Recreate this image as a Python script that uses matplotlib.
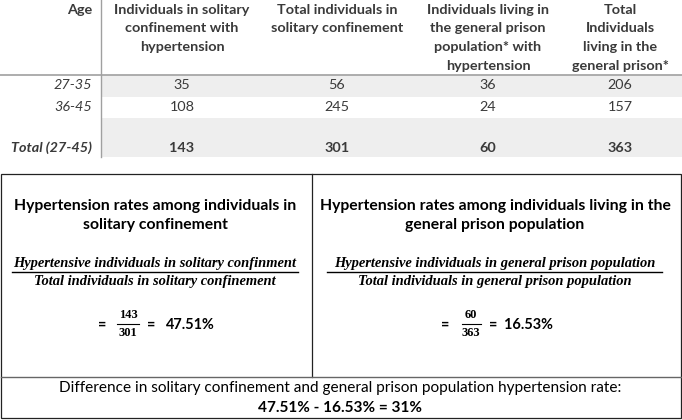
import matplotlib
matplotlib.use("Agg")
import matplotlib.pyplot as plt
from matplotlib.patches import Rectangle

# ---------------- data ----------------
age_header = "Age"
col_headers = [
    ["Individuals in solitary", "confinement with", "hypertension"],
    ["Total individuals in", "solitary confinement"],
    ["Individuals living in", "the general prison", "population* with", "hypertension"],
    ["Total", "Individuals", "living in the", "general prison*"],
]
age_groups = ["27-35", "36-45"]
solitary_htn = [35, 108]
solitary_total = [56, 245]
general_htn = [36, 24]
general_total = [206, 157]
total_label = "Total (27-45)"

tot_sol_htn = sum(solitary_htn)
tot_sol = sum(solitary_total)
tot_gen_htn = sum(general_htn)
tot_gen = sum(general_total)
rate_sol = 100 * tot_sol_htn / tot_sol
rate_gen = 100 * tot_gen_htn / tot_gen
diff = rate_sol - rate_gen

left_title = ["Hypertension rates among individuals in", "solitary confinement"]
right_title = ["Hypertension rates among individuals living in the", "general prison population"]
left_num = "Hypertensive individuals in solitary confinment"
left_den = "Total individuals in solitary confinement"
right_num = "Hypertensive individuals in general prison population"
right_den = "Total individuals in general prison population"
diff_text = "Difference in solitary confinement and general prison population hypertension rate:"

# ---------------- figure ----------------
W, H = 682, 420
fig = plt.figure(figsize=(W / 100, H / 100), dpi=100)
ax = fig.add_axes([0, 0, 1, 1])
ax.set_xlim(0, W)
ax.set_ylim(H, 0)
ax.axis("off")
fig.canvas.draw()
R = fig.canvas.get_renderer()

SANS = "Lato"
SERIF = "Liberation Serif"
TCOL = "#3a3a3a"


def fit(text_obj, target_w):
    w = text_obj.get_window_extent(R).width
    fs = text_obj.get_fontsize() * target_w / w
    text_obj.set_fontsize(fs)
    return fs


def txt(x, y, s, size=10, ha="center", weight="normal", style="normal",
        family=SANS, color="black"):
    return ax.text(x, y, s, ha=ha, va="center", fontsize=size, fontweight=weight,
                   fontstyle=style, family=family, color=color)


# ---------- top table ----------
band = "#eeeeee"
ax.add_patch(Rectangle((101, 75), W - 101, 22, color=band, lw=0, zorder=0))
ax.add_patch(Rectangle((101, 118), W - 101, 39, color=band, lw=0, zorder=0))
ax.plot([0, W], [75, 75], color="#a0a0a0", lw=1.2, zorder=1)
ax.plot([101, 101], [0, 157], color="#a0a0a0", lw=1.0, zorder=1)

col_x = [182, 337, 488, 620]
line_y = [10, 28.5, 47, 65.5]

t = txt(182, line_y[0], col_headers[0][0], weight="bold", color=TCOL)
hfs = fit(t, 136)
for ci, lines in enumerate(col_headers):
    for li, s in enumerate(lines):
        if ci == 0 and li == 0:
            continue
        txt(col_x[ci], line_y[li], s, size=hfs, weight="bold", color=TCOL)
txt(92, line_y[0], age_header, size=hfs, ha="right", weight="bold", color=TCOL)

row_y = [85, 107]
for ri, ag in enumerate(age_groups):
    txt(92, row_y[ri], ag, size=hfs, ha="right", style="italic", color=TCOL)
    vals = [solitary_htn[ri], solitary_total[ri], general_htn[ri], general_total[ri]]
    for ci, v in enumerate(vals):
        txt(col_x[ci], row_y[ri], str(v), size=hfs, color=TCOL)

txt(92, 148, total_label, size=hfs, ha="right", style="italic", weight="bold", color=TCOL)
for ci, v in enumerate([tot_sol_htn, tot_sol, tot_gen_htn, tot_gen]):
    txt(col_x[ci], 148, str(v), size=hfs, weight="bold", color=TCOL)

# ---------- bottom boxes ----------
bc = "#222222"
ax.add_patch(Rectangle((1, 174), W - 2, 244, fill=False, ec=bc, lw=0.9))
ax.plot([312, 312], [174, 377], color=bc, lw=0.9)
ax.plot([1, W - 1], [377, 377], color="#666666", lw=1.0)

lc, rc = 155, 495
t = txt(lc, 206, left_title[0], weight="bold")
tfs = fit(t, 283)
txt(lc, 225, left_title[1], size=tfs, weight="bold")
txt(rc, 206, right_title[0], size=tfs, weight="bold")
txt(rc, 225, right_title[1], size=tfs, weight="bold")

# formula fractions
t = txt(lc, 263, left_num, weight="bold", style="italic", family=SERIF)
ffs = fit(t, 284)
txt(lc, 282, left_den, size=ffs, weight="bold", style="italic", family=SERIF)
ax.plot([12, 298], [272, 272], color="black", lw=1.0)
txt(rc, 263, right_num, size=ffs, weight="bold", style="italic", family=SERIF)
txt(rc, 282, right_den, size=ffs, weight="bold", style="italic", family=SERIF)
ax.plot([327, 662], [272, 272], color="black", lw=1.0)

# computed values
t = txt(166, 325, f"{rate_sol:.2f}%", ha="left", weight="bold")
efs = fit(t, 49)
txt(102, 325, "=", size=efs, weight="bold")
txt(151, 325, "=", size=efs, weight="bold")
txt(128, 315.5, str(tot_sol_htn), size=efs * 0.86, weight="bold", family=SERIF)
txt(128, 333, str(tot_sol), size=efs * 0.86, weight="bold", family=SERIF)
ax.plot([117, 139], [324, 324], color="black", lw=0.8)

txt(504, 325, f"{rate_gen:.2f}%", size=efs, ha="left", weight="bold")
txt(445, 325, "=", size=efs, weight="bold")
txt(493, 325, "=", size=efs, weight="bold")
txt(471, 315, str(tot_gen_htn), size=efs * 0.86, weight="bold", family=SERIF)
txt(471, 333, str(tot_gen), size=efs * 0.86, weight="bold", family=SERIF)
ax.plot([462, 481], [324, 324], color="black", lw=0.8)

t = txt(340, 388, diff_text)
dfs = fit(t, 565)
txt(340, 408, f"{rate_sol:.2f}% - {rate_gen:.2f}% = {diff:.0f}%", size=dfs, weight="bold")

fig.savefig("out.png", dpi=100)
